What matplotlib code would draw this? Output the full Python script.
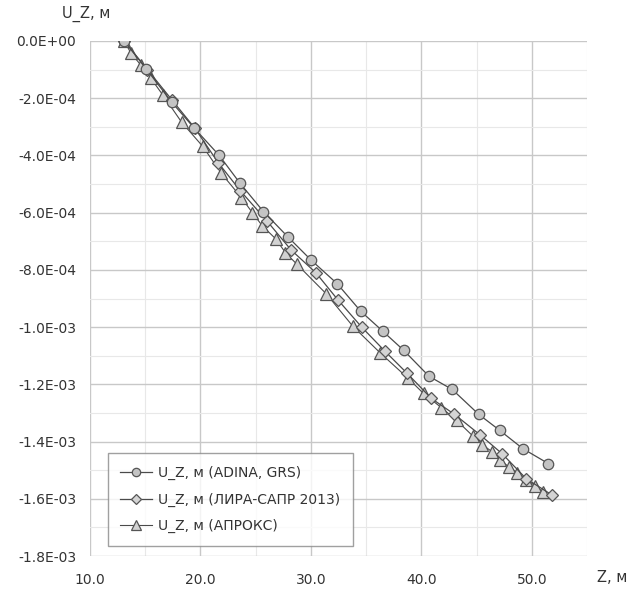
import matplotlib
matplotlib.use("Agg")
import matplotlib.pyplot as plt
from matplotlib.ticker import FuncFormatter, MultipleLocator

plt.rcParams['font.family'] = ['DejaVu Sans']

# ADINA, GRS
z_adina = [13.1, 15.1, 17.4, 19.45, 21.7, 23.6, 25.7, 27.9, 30.0, 32.4, 34.5,
           36.5, 38.4, 40.7, 42.8, 45.2, 47.1, 49.2, 51.5]
u_adina = [0.0, -0.98e-4, -2.14e-4, -3.05e-4, -4.0e-4, -4.98e-4, -5.96e-4,
           -6.84e-4, -7.65e-4, -8.49e-4, -9.44e-4, -1.014e-3, -1.081e-3,
           -1.172e-3, -1.218e-3, -1.305e-3, -1.361e-3, -1.425e-3, -1.477e-3]

# ЛИРА-САПР 2013
z_lira = [13.1, 15.2, 17.4, 19.5, 21.6, 23.6, 26.0, 28.2, 30.45, 32.45, 34.6,
          36.7, 38.7, 40.9, 43.0, 45.3, 47.3, 49.5, 51.8]
u_lira = [0.0, -1.0e-4, -2.05e-4, -3.05e-4, -4.25e-4, -5.23e-4, -6.28e-4,
          -7.3e-4, -8.1e-4, -9.05e-4, -1.0e-3, -1.084e-3, -1.161e-3,
          -1.249e-3, -1.305e-3, -1.376e-3, -1.442e-3, -1.53e-3, -1.586e-3]

# АПРОКС
z_aprox = [13.1, 13.7, 14.6, 15.5, 16.6, 18.3, 20.2, 21.9, 23.7, 24.7, 25.6,
           26.8, 27.7, 28.7, 31.4, 33.8, 36.3, 38.8, 40.2, 41.8, 43.2, 44.7,
           45.5, 46.4, 47.1, 47.9, 48.7, 49.5, 50.3, 51.0]
u_aprox = [0.0, -0.42e-4, -0.84e-4, -1.30e-4, -1.89e-4, -2.84e-4, -3.68e-4,
           -4.63e-4, -5.47e-4, -6.0e-4, -6.46e-4, -6.91e-4, -7.40e-4,
           -7.79e-4, -8.84e-4, -9.97e-4, -1.091e-3, -1.179e-3, -1.232e-3,
           -1.281e-3, -1.326e-3, -1.382e-3, -1.411e-3, -1.435e-3, -1.463e-3,
           -1.488e-3, -1.509e-3, -1.533e-3, -1.554e-3, -1.575e-3]

labels = ["U_Z, м (ADINA, GRS)", "U_Z, м (ЛИРА-САПР 2013)", "U_Z, м (АПРОКС)"]

fig = plt.figure(figsize=(6.37, 5.96), dpi=100)
ax = fig.add_axes([90/637, 1-556/596, (587-90)/637, (556-41)/596])

line_c = "#4a4a4a"
edge_c = "#555555"
ax.plot(z_adina, u_adina, color=line_c, lw=0.9, marker='o', ms=7.5,
        mfc="#c4c4c4", mec=edge_c, mew=0.9, label=labels[0], zorder=4)
ax.plot(z_lira, u_lira, color=line_c, lw=0.9, marker='D', ms=6.5,
        mfc="#d4d4d4", mec=edge_c, mew=0.9, label=labels[1], zorder=3)
ax.plot(z_aprox, u_aprox, color=line_c, lw=0.8, marker='^', ms=8.5,
        mfc="#d2d2d2", mec=edge_c, mew=0.9, label=labels[2], zorder=2)

ax.set_xlim(10, 55)
ax.set_ylim(-1.8e-3, 0)
ax.xaxis.set_major_locator(MultipleLocator(10))
ax.xaxis.set_minor_locator(MultipleLocator(5))
ax.yaxis.set_major_locator(MultipleLocator(2e-4))
ax.yaxis.set_minor_locator(MultipleLocator(1e-4))

def yfmt(v, pos):
    if abs(v) < 1e-12:
        return "0.0E+00"
    return f"{v:.1E}"

ax.yaxis.set_major_formatter(FuncFormatter(yfmt))
ax.xaxis.set_major_formatter(FuncFormatter(lambda v, p: f"{v:.1f}" if v <= 50 else ""))

ax.grid(which='major', color="#c8c8c8", lw=1.0)
ax.grid(which='minor', color="#e8e8e8", lw=0.8)
ax.set_axisbelow(True)
for s in ax.spines.values():
    s.set_visible(False)
ax.tick_params(which='both', length=0)
ax.tick_params(axis='y', labelsize=10, colors="#333333", pad=10)
ax.tick_params(axis='x', labelsize=10, colors="#333333", pad=12)

fig.text(62/637, 1-14/596, "U_Z, м", fontsize=10.5, color="#333333",
         ha='left', va='center')
fig.text(597/637, 1-578/596, "Z, м", fontsize=10.5, color="#333333",
         ha='left', va='center')

leg = ax.legend(loc='lower left', bbox_to_anchor=(0.036, 0.02),
                fontsize=10, frameon=True, fancybox=False, handlelength=2.3,
                borderpad=0.9, labelspacing=0.9, handletextpad=0.4,
                borderaxespad=0, markerscale=0.8)
leg.get_frame().set_edgecolor("#888888")
leg.get_frame().set_linewidth(1.0)
for t in leg.get_texts():
    t.set_color("#333333")

fig.savefig("out.png", dpi=100)
